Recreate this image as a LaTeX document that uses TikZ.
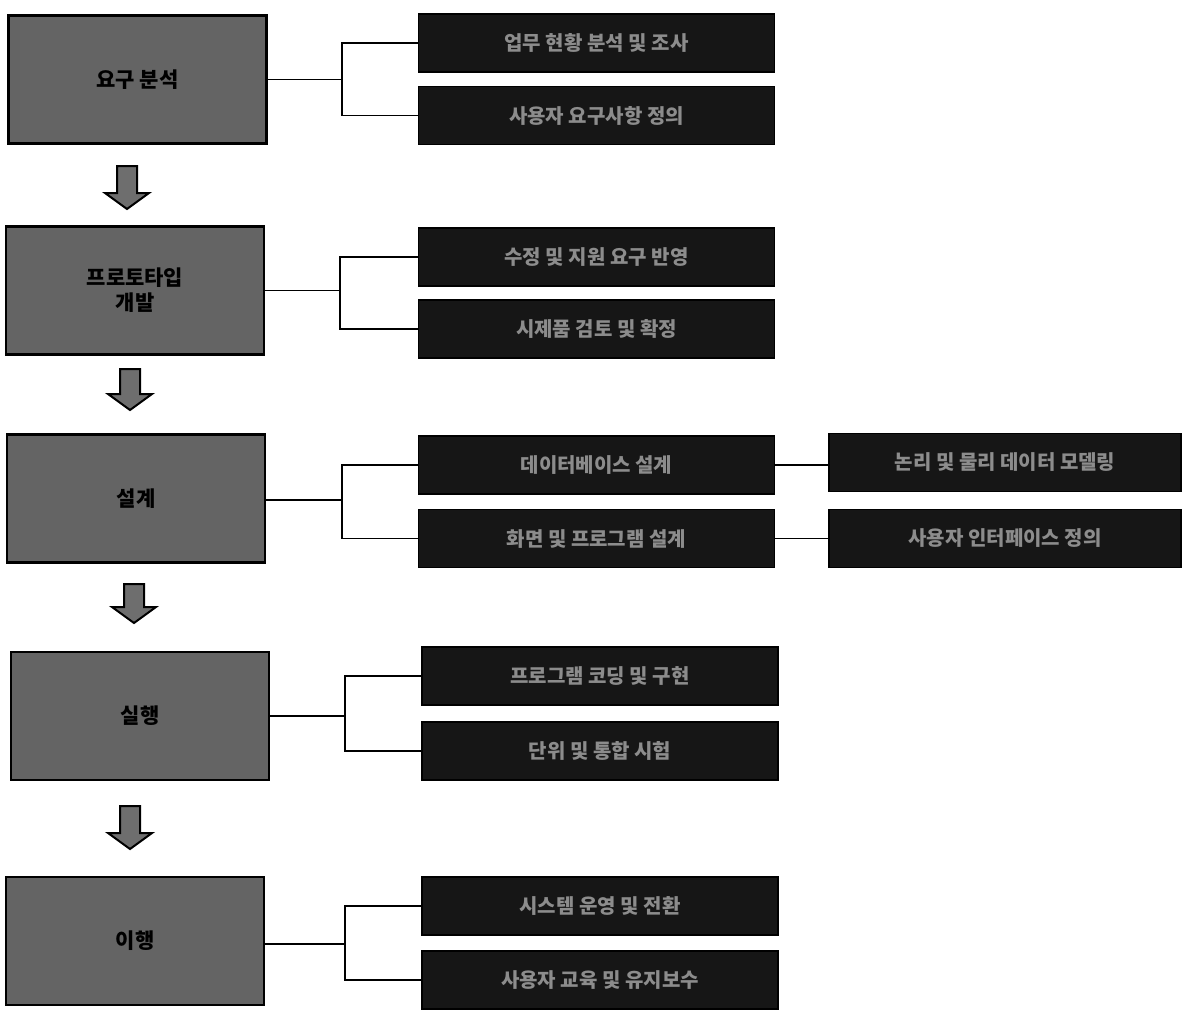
\documentclass[tikz,border=0pt]{standalone}
\usepackage{fontspec}
\newfontfamily\kr{Noto Sans CJK KR}
\definecolor{stagefill}{HTML}{646464}
\definecolor{taskfill}{HTML}{161616}
\definecolor{tasktext}{HTML}{8C8C8C}
\definecolor{arrowfill}{HTML}{6E6E6E}
\begin{document}
\begin{tikzpicture}[x=1pt,y=-1pt,
  stage/.style={draw=black, line width=2.2pt, fill=stagefill, text=black,
    minimum width=258pt, minimum height=128pt, inner sep=0pt,
    font=\kr\bfseries\fontsize{21}{25}\selectfont, align=center},
  task/.style={draw=black, line width=1.6pt, fill=taskfill, text=tasktext,
    minimum width=356pt, minimum height=58pt, inner sep=0pt,
    font=\kr\bfseries\fontsize{20}{23}\selectfont},
  link/.style={draw=black, line width=1.4pt},
  downarrow/.style={draw=black, line width=2pt, fill=arrowfill, line join=miter}
]
\useasboundingbox (0,0) rectangle (1183,1010);

% process stages (left column)
\node[stage] (s1) at (137.5,79.5) {요구 분석};
\node[stage] (s2) at (135,290.5) {프로토타입\\개발};
\node[stage] (s3) at (136,498.5) {설계};
\node[stage] (s4) at (140,716) {실행};
\node[stage] (s5) at (135,941) {이행};

% activities of each stage
\node[task] (t1a) at (596.5,43) {업무 현황 분석 및 조사};
\node[task] (t1b) at (596.5,115.5) {사용자 요구사항 정의};
\node[task] (t2a) at (596.5,257) {수정 및 지원 요구 반영};
\node[task] (t2b) at (596.5,329) {시제품 검토 및 확정};
\node[task] (t3a) at (596.5,465) {데이터베이스 설계};
\node[task] (t3b) at (596.5,538.5) {화면 및 프로그램 설계};
\node[task] (t4a) at (600,676) {프로그램 코딩 및 구현};
\node[task] (t4b) at (600,751) {단위 및 통합 시험};
\node[task] (t5a) at (600,906) {시스템 운영 및 전환};
\node[task] (t5b) at (600,980) {사용자 교육 및 유지보수};

% detail of the design activities
\node[task, minimum width=352pt] (d3a) at (1005,462.5) {논리 및 물리 데이터 모델링};
\node[task, minimum width=352pt] (d3b) at (1005,538.5) {사용자 인터페이스 정의};

% branching points
\coordinate (j1) at (342,79.5);
\coordinate (j2) at (340,290.5);
\coordinate (j3) at (342,500);
\coordinate (j4) at (345,716);
\coordinate (j5) at (345,944);

% connectors from each stage to its activities
\foreach \s/\j/\a/\b in {s1/j1/t1a/t1b, s2/j2/t2a/t2b, s3/j3/t3a/t3b, s4/j4/t4a/t4b, s5/j5/t5a/t5b} {
  \draw[link] (\s.east |- \j) -- (\j);
  \draw[link] (\a.west) -| (\j) |- (\b.west);
}
\draw[link] (t3a.east) -- (d3a.west |- t3a.east);
\draw[link] (t3b.east) -- (d3b.west |- t3b.east);

% block arrows between stages
\foreach \cx/\top/\bot in {127/166/209, 130/369/410, 134/584/623, 130/806/849} {
  \draw[downarrow] (\cx-10,\top) -- (\cx+10,\top) -- (\cx+10,\bot-16) -- (\cx+22,\bot-16)
    -- (\cx,\bot) -- (\cx-22,\bot-16) -- (\cx-10,\bot-16) -- cycle;
}
\end{tikzpicture}
\end{document}
